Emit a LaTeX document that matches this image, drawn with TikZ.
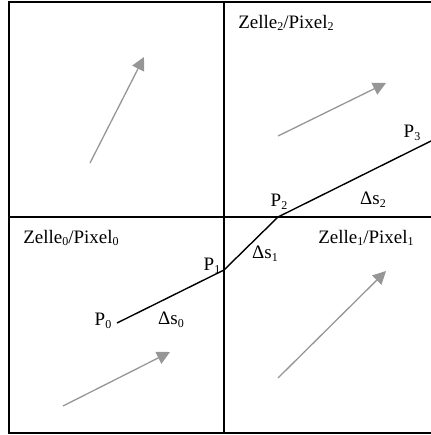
\documentclass[tikz,border=0pt]{standalone}
\usepackage{fontspec}
\setmainfont{Liberation Serif}
\usetikzlibrary{arrows.meta}
\newcommand\lowsub[1]{\raisebox{-0.3ex}{\fontsize{12}{12}\selectfont #1}}
\definecolor{arrowgray}{RGB}{150,150,150}
\tikzset{
  frame/.style={line width=1.3pt, black},
  pathline/.style={line width=1.4pt, black},
  flow/.style={line width=1.3pt, arrowgray, -{Triangle[length=13pt,width=13pt]}},
  lbl/.style={inner sep=0pt, font=\fontsize{19}{22}\selectfont}
}
\begin{document}
\begin{tikzpicture}[x=1pt,y=-1pt]
\useasboundingbox (0,0) rectangle (430,435);
% frame
\coordinate (tl) at (9,2);
\coordinate (tr) at (431,2);
\coordinate (bl) at (9,433);
\coordinate (br) at (431,433);
\coordinate (vt) at (224,2);
\coordinate (vb) at (224,433);
\coordinate (hl) at (9,217);
\coordinate (hr) at (431,217);
\draw[frame] (tr) -- (tl) -- (bl) -- (br);
\draw[frame] (vt) -- (vb);
\draw[frame] (hl) -- (hr);
% path
\coordinate (P0) at (117,323);
\coordinate (P1) at (224,270);
\coordinate (P2) at (278,217);
\coordinate (P3) at (431,141);
\draw[pathline] (P0) -- (P1) -- (P2) -- (P3);
% labels
\node[lbl] (lP0) at (103,321) {P\lowsub{0}};
\node[lbl] (lP1) at (212,266) {P\lowsub{1}};
\node[lbl] (lP2) at (279,202) {P\lowsub{2}};
\node[lbl] (lP3) at (412,133) {P\lowsub{3}};
\node[lbl] (ls0) at (171,320) {Δs\lowsub{0}};
\node[lbl] (ls1) at (265,254) {Δs\lowsub{1}};
\node[lbl] (ls2) at (373,200) {Δs\lowsub{2}};
\node[lbl] (z2) at (286,23) {Zelle\lowsub{2}/Pixel\lowsub{2}};
\node[lbl] (z0) at (71,238) {Zelle\lowsub{0}/Pixel\lowsub{0}};
\node[lbl] (z1) at (366,238) {Zelle\lowsub{1}/Pixel\lowsub{1}};
% flow arrows
\coordinate (a1s) at (90,163);
\coordinate (a1e) at (144,57);
\coordinate (a2s) at (278,136);
\coordinate (a2e) at (386,83);
\coordinate (a3s) at (63,406);
\coordinate (a3e) at (170,352);
\coordinate (a4s) at (278,378);
\coordinate (a4e) at (386,271);
\draw[flow] (a1s) -- (a1e);
\draw[flow] (a2s) -- (a2e);
\draw[flow] (a3s) -- (a3e);
\draw[flow] (a4s) -- (a4e);
\end{tikzpicture}
\end{document}
